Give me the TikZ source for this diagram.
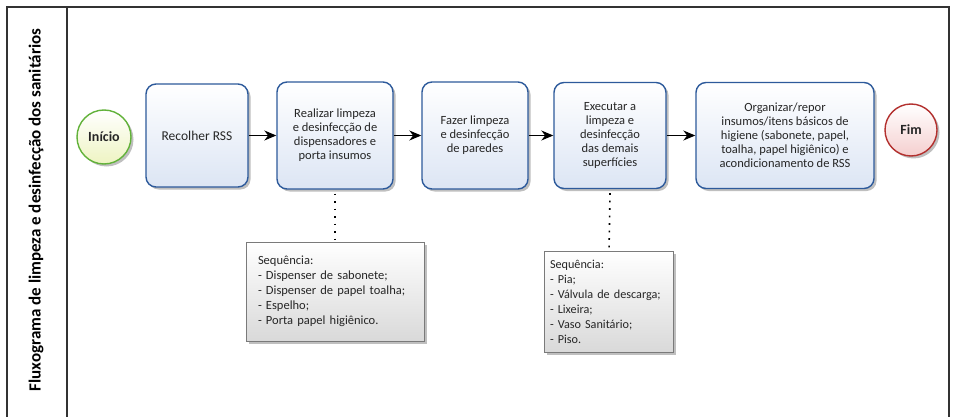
\documentclass[tikz,border=0pt]{standalone}
\usepackage{fontspec}
\setmainfont{Carlito}
\usetikzlibrary{arrows.meta,shadows}
\definecolor{boxborder}{HTML}{2D5A9B}
\definecolor{boxfill}{HTML}{DCE5F4}
\definecolor{startborder}{HTML}{62B23A}
\definecolor{startfill}{HTML}{EEF4C2}
\definecolor{endborder}{HTML}{B3302E}
\definecolor{endfill}{HTML}{F5CFCF}
\definecolor{noteborder}{HTML}{7A7A7A}
\definecolor{notefill}{HTML}{D9D9D9}
\definecolor{framecol}{HTML}{333333}
\definecolor{textcol}{HTML}{262626}
\tikzset{
  stepbox/.style={draw=boxborder, line width=1.4pt, rounded corners=10pt,
    top color=white, bottom color=boxfill, align=center, text=textcol,
    font=\fontsize{12.5}{14}\selectfont, inner sep=4pt,
    drop shadow={shadow xshift=2.5pt, shadow yshift=-2.5pt, opacity=0.25, fill=black}},
  startev/.style={circle, draw=startborder, line width=1.4pt, minimum size=54pt,
    top color=white, bottom color=startfill, text=textcol,
    font=\fontsize{14}{16}\selectfont\bfseries,
    drop shadow={shadow xshift=2.5pt, shadow yshift=-2.5pt, opacity=0.25, fill=black}},
  endev/.style={circle, draw=endborder, line width=1.4pt, minimum size=52pt,
    top color=white, bottom color=endfill, text=textcol,
    font=\fontsize{14}{16}\selectfont\bfseries,
    drop shadow={shadow xshift=2.5pt, shadow yshift=-2.5pt, opacity=0.25, fill=black}},
  notebox/.style={draw=noteborder, line width=1pt, top color=white, bottom color=notefill,
    align=left, text=textcol, font=\fontsize{12.5}{15}\selectfont, inner sep=0pt,
    drop shadow={shadow xshift=2.5pt, shadow yshift=-2.5pt, opacity=0.25, fill=black}},
  flow/.style={line width=1.2pt, -{Stealth[length=12pt,width=10pt]}},
  dotline/.style={line width=1.6pt, dash pattern=on 1.6pt off 5.9pt},
  frame/.style={draw=framecol, line width=1.4pt}
}
\begin{document}
\begin{tikzpicture}[x=1pt,y=-1pt]
\useasboundingbox (0,0) rectangle (953,417);
\fill[white] (0,0) rectangle (953,417);
% frame
\draw[frame] (7,417) -- (7,7) -- (949,7) -- (949,417);
\draw[frame] (67,7) -- (67,417);
\node[rotate=90, text=black, font=\fontsize{17}{19}\selectfont\bfseries] (title) at (36,210)
  {Fluxograma de limpeza e desinfecção dos sanitários};
% events
\node[startev] (ini) at (104,137) {Início};
\node[endev] (fim) at (911,130) {Fim};
% steps
\node[stepbox, minimum width=102pt, minimum height=103pt, font=\fontsize{13.5}{15}\selectfont] (b1) at (197,135.5) {Recolher RSS};
\node[stepbox, minimum width=116pt, minimum height=107pt] (b2) at (335,135.5)
  {Realizar limpeza\\e desinfecção de\\dispensadores e\\porta insumos};
\node[stepbox, minimum width=106pt, minimum height=107pt] (b3) at (475,135.5)
  {Fazer limpeza\\e desinfecção\\de paredes};
\node[stepbox, minimum width=112pt, minimum height=106pt] (b4) at (610,135.5)
  {Executar a\\limpeza e\\desinfecção\\das demais\\superfícies};
\node[stepbox, minimum width=178pt, minimum height=106pt] (b5) at (785,135.5)
  {Organizar/repor\\insumos/itens básicos de\\higiene (sabonete, papel,\\toalha, papel higiênico) e\\acondicionamento de RSS};
% arrows
\draw[flow] (b1) -- (b2);
\draw[flow] (b2) -- (b3);
\draw[flow] (b3) -- (b4);
\draw[flow] (b4) -- (b5);
% notes
\node[notebox, minimum width=178pt, minimum height=99pt, text width=154pt] (n1) at (335,291.5)
  {Sequência:\\- Dispenser de sabonete;\\- Dispenser de papel toalha;\\- Espelho;\\- Porta papel higiênico.};
\node[notebox, minimum width=129pt, minimum height=101pt, text width=118pt, font=\fontsize{12.2}{15}\selectfont] (n2) at (609,301.5)
  {Sequência:\\- Pia;\\- Válvula de descarga;\\- Lixeira;\\- Vaso Sanitário;\\- Piso.};
\draw[dotline] ([yshift=-4pt]b2.south) -- (n1.north);
\draw[dotline] ([yshift=-4pt]b4.south) -- (n2.north);
\end{tikzpicture}
\end{document}
